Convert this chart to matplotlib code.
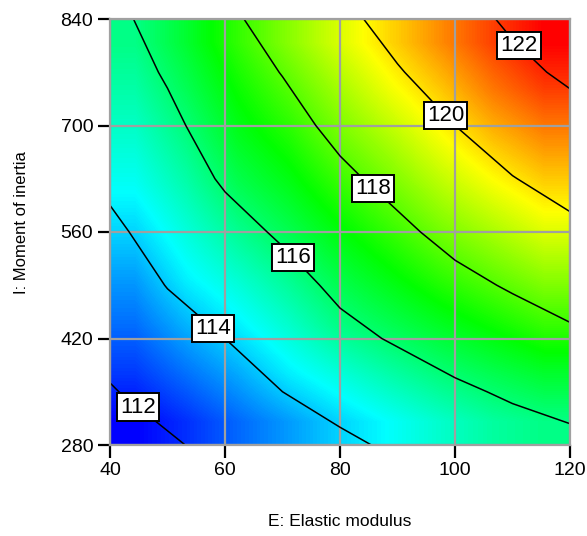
import numpy as np
import matplotlib
matplotlib.use("Agg")
import matplotlib.pyplot as plt
from matplotlib.colors import LinearSegmentedColormap

plt.rcParams['font.family'] = ['Liberation Sans', 'DejaVu Sans']

# Grid of factor values
E_vals = [40, 50, 60, 70, 80, 90, 100, 110, 120]
I_vals = [280, 350, 420, 490, 560, 630, 700, 770, 840]

# Response values; one list per E column (rows follow I_vals)
resp_E40 = [111.25, 111.90, 112.50, 113.05, 113.70, 114.30, 114.75, 115.20, 115.60]
resp_E50 = [111.80, 112.55, 113.30, 114.05, 114.60, 115.15, 115.65, 116.15, 116.58]
resp_E60 = [112.45, 113.20, 114.00, 114.70, 115.45, 116.18, 116.75, 117.20, 117.67]
resp_E70 = [113.05, 114.00, 114.75, 115.45, 116.20, 116.85, 117.45, 118.05, 118.67]
resp_E80 = [113.70, 114.60, 115.60, 116.30, 117.00, 117.70, 118.40, 119.00, 119.63]
resp_E90 = [114.25, 115.20, 116.15, 116.95, 117.70, 118.45, 119.15, 119.90, 120.53]
resp_E100 = [114.80, 115.75, 116.70, 117.60, 118.45, 119.25, 120.00, 120.70, 121.40]
resp_E110 = [115.30, 116.20, 117.20, 118.15, 119.05, 119.95, 120.80, 121.60, 122.25]
resp_E120 = [115.60, 116.60, 117.70, 118.69, 119.66, 120.55, 121.40, 122.27, 123.00]

levels = [112, 114, 116, 118, 120, 122]
x_ticks = [40, 60, 80, 100, 120]
y_ticks = [280, 420, 560, 700, 840]
x_label = "E: Elastic modulus"
y_label = "I: Moment of inertia"

Z = np.array([resp_E40, resp_E50, resp_E60, resp_E70, resp_E80,
              resp_E90, resp_E100, resp_E110, resp_E120]).T  # shape (I, E)

cmap = LinearSegmentedColormap.from_list(
    "de", ["#0000ff", "#00ffff", "#00ff00", "#ffff00", "#ff0000"])

fig = plt.figure(figsize=(5.87, 5.36), dpi=100)
ax = fig.add_axes([110 / 587, (536 - 445) / 536, 460 / 587, 426 / 536])

ax.imshow(Z, origin='lower', extent=[E_vals[0], E_vals[-1], I_vals[0], I_vals[-1]],
          aspect='auto', cmap=cmap, vmin=111.25, vmax=123.0,
          interpolation='bilinear', zorder=0)

cs = ax.contour(E_vals, I_vals, Z, levels=levels, colors='k', linewidths=1.1, zorder=2)
label_pos = [(45.7, 338), (58.1, 435), (72.0, 527), (85.9, 618), (98.8, 716), (112.3, 814)]
texts = ax.clabel(cs, levels, fmt='%d', fontsize=16, inline=False, manual=label_pos)
for t in texts:
    t.set_rotation(0)
    t.set_bbox(dict(boxstyle='square,pad=0.14', fc='white', ec='black', lw=1.4))
    t.set_zorder(5)

ax.set_xlim(E_vals[0], E_vals[-1])
ax.set_ylim(I_vals[0], I_vals[-1])
ax.set_xticks(x_ticks)
ax.set_yticks(y_ticks)
ax.tick_params(axis='both', direction='out', length=9, width=1.6, labelsize=14,
               color='black', pad=3)
ax.grid(True, color='#a0a0a0', linewidth=1.6)
for s in ax.spines.values():
    s.set_color('#a0a0a0')
    s.set_linewidth(1.6)

ax.set_xlabel(x_label, fontsize=12.5)
ax.set_ylabel(y_label, fontsize=12)
ax.xaxis.set_label_coords(0.5, -0.163)
ax.yaxis.set_label_coords(-0.176, 0.523)

fig.savefig("out.png", dpi=100)
